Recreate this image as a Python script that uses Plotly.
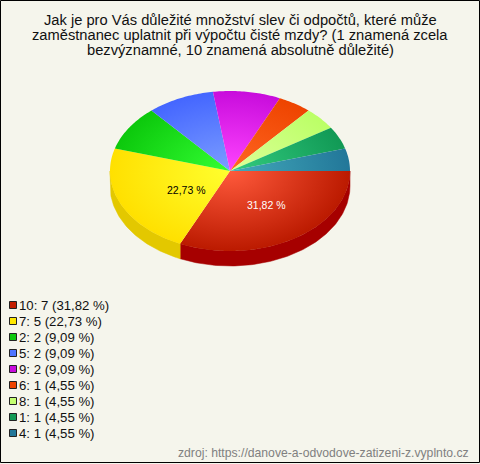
import math
import plotly.graph_objects as go

# Data
categories = ["10", "7", "2", "5", "9", "6", "8", "1", "4"]
counts = [7, 5, 2, 2, 2, 1, 1, 1, 1]
title_lines = [
    "Jak je pro Vás důležité množství slev či odpočtů, které může",
    "zaměstnanec uplatnit při výpočtu čisté mzdy? (1 znamená zcela",
    "bezvýznamné, 10 znamená absolutně důležité)",
]
source_text = "zdroj: https://danove-a-odvodove-zatizeni-z.vyplnto.cz"

# Styles
center_colors = ["#FF5A3C", "#FFFF2E", "#33FF33", "#7C9EFF", "#FF44FF", "#FF6622", "#DDFF99", "#33CC80", "#44AABB"]
edge_colors = ["#BB1A00", "#FFE000", "#0CC80C", "#4466FF", "#C80CDC", "#EE4400", "#BBFF66", "#119955", "#227799"]
side_colors = ["#A60000", "#E3C800", "#0A9A0A", "#3350C0", "#9A0AA8", "#B83400", "#90C850", "#0C7540", "#1A5C75"]
swatch_colors = ["#C41E00", "#FFE800", "#0CC80C", "#4D74FF", "#C80CDC", "#EE4400", "#C4FF70", "#119955", "#227799"]
BG = "#F5F5EC"
W, H = 480, 464
CX, CY, RX, RY, DEPTH = 230, 171, 120, 80, 15
FONT = "Liberation Sans"

total = sum(counts)
fig = go.Figure()


def pt(deg, dy=0):
    a = math.radians(deg)
    return CX + RX * math.cos(a), CY + RY * math.sin(a) + dy


def arc(a0, a1, dy=0):
    n = max(2, int(abs(a1 - a0)) + 2)
    return [pt(a0 + (a1 - a0) * i / (n - 1), dy) for i in range(n)]


# Slice angle spans, clockwise from 3 o'clock
spans = []
ang = 0.0
for c in counts:
    spans.append((ang, ang + 360 * c / total))
    ang += 360 * c / total

# Side wall (front half only)
for (a0, a1), col in zip(spans, side_colors):
    lo, hi = a0, min(a1, 180)
    if lo >= hi:
        continue
    poly = arc(lo, hi) + arc(hi, lo, DEPTH)
    poly.append(poly[0])
    fig.add_trace(go.Scatter(
        x=[p[0] for p in poly], y=[p[1] for p in poly], mode="lines",
        line=dict(width=0.5, color=col), fill="toself", fillcolor=col,
        hoverinfo="skip", showlegend=False))

# Top face, each wedge has zero-area spurs so its radial gradient is centred on the pie
for cat, c, (a0, a1), cc, ec in zip(categories, counts, spans, center_colors, edge_colors):
    poly = [(CX, CY)] + arc(a0, a1) + [(CX, CY), (CX - RX, CY - RY), (CX, CY), (CX + RX, CY + RY), (CX, CY)]
    fig.add_trace(go.Scatter(
        x=[p[0] for p in poly], y=[p[1] for p in poly], mode="lines",
        line=dict(width=0, simplify=False), fill="toself",
        fillgradient=dict(type="radial", colorscale=[[0, cc], [1, ec]]),
        name=cat, hoverinfo="skip", showlegend=False))

# Percent labels on the two big slices
label_style = {0: ("white", 0.56, 0.50), 1: ("black", 0.40, 0.57)}
for i, (col, kx, ky) in label_style.items():
    mid = math.radians(sum(spans[i]) / 2)
    pct = f"{100 * counts[i] / total:.2f}".replace(".", ",") + " %"
    fig.add_annotation(x=CX + RX * kx * math.cos(mid), y=CY + RY * ky * math.sin(mid),
                       text=pct, showarrow=False, font=dict(family=FONT, size=10.5, color=col))

# Legend column
legend_x, legend_y0, legend_step = 13, 305, 16
ys = [legend_y0 + legend_step * i for i in range(len(categories))]
texts = [f"{k}: {c} ({100 * c / total:.2f} %)".replace(".", ",") for k, c in zip(categories, counts)]
fig.add_trace(go.Scatter(
    x=[legend_x] * len(ys), y=ys, mode="markers",
    marker=dict(symbol="square", size=7, color=swatch_colors, line=dict(width=1, color="#222222")),
    hoverinfo="skip", showlegend=False))
fig.add_trace(go.Scatter(
    x=[legend_x + 6] * len(ys), y=[y + 1.5 for y in ys], mode="text", text=texts, textposition="middle right",
    textfont=dict(family=FONT, size=13.2, color="#111111"),
    hoverinfo="skip", showlegend=False))

# Title
for i, line in enumerate(title_lines):
    fig.add_annotation(x=W / 2, y=20 + 15 * i, text=line, showarrow=False,
                       font=dict(family=FONT, size=14.7, color="#111111"))

fig.add_annotation(x=471, y=453, xanchor="right", text=source_text, showarrow=False,
                   font=dict(family=FONT, size=12.2, color="#808080"))

fig.add_shape(type="rect", x0=0.5, y0=0.5, x1=W - 0.5, y1=H - 1.5, line=dict(color="black", width=1))

fig.update_layout(
    width=W, height=H, margin=dict(l=0, r=0, t=0, b=0), paper_bgcolor=BG, plot_bgcolor=BG,
    showlegend=False,
    xaxis=dict(range=[0, W], visible=False, fixedrange=True),
    yaxis=dict(range=[H, 0], visible=False, fixedrange=True),
)
fig.write_html("out.html", config={"displayModeBar": False},
               post_script="document.body.style.margin='0';document.documentElement.style.overflow='hidden';")
